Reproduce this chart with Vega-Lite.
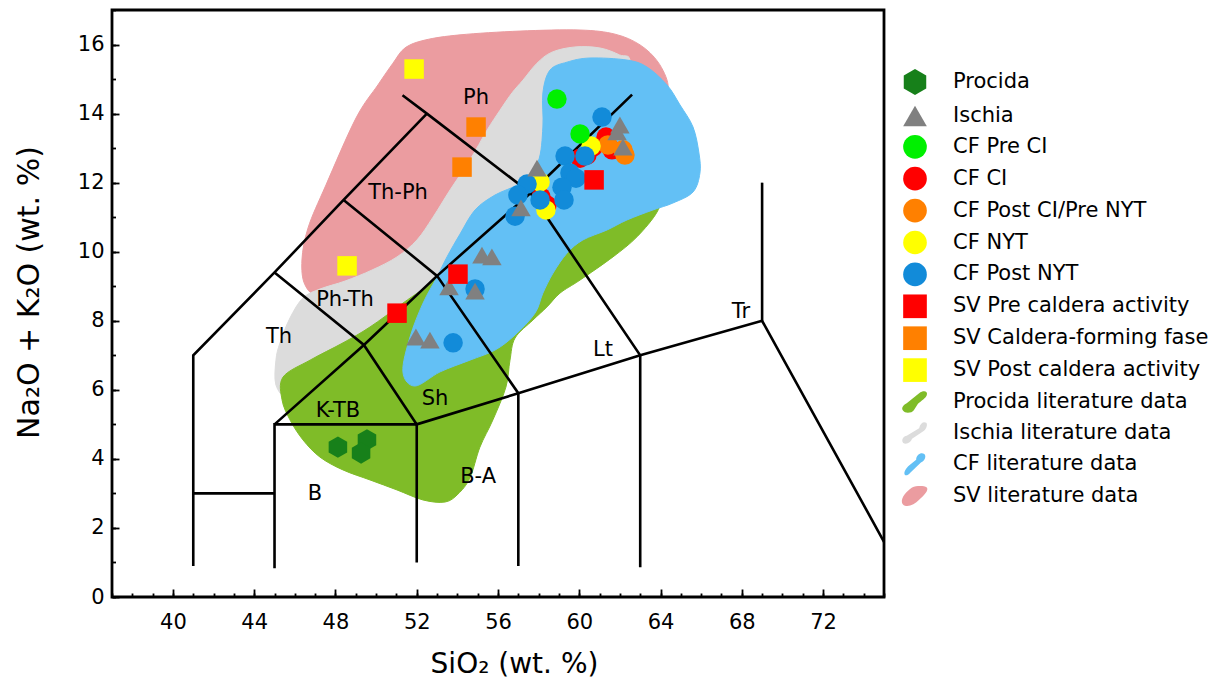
{
  "$schema": "https://vega.github.io/schema/vega-lite/v6.json",
  "width": 772,
  "height": 587,
  "autosize": {"type": "none"},
  "padding": {"left": 112, "top": 10, "right": 340, "bottom": 87},
  "background": "white",
  "config": {
    "view": {"stroke": "black", "strokeWidth": 2.8},
    "axis": {
      "grid": false,
      "domain": false,
      "tickColor": "black",
      "tickWidth": 1.8,
      "labelFont": "DejaVu Sans",
      "labelFontSize": 21,
      "labelColor": "black",
      "labelOverlap": false,
      "labelFlush": false,
      "titleFont": "DejaVu Sans",
      "titleFontWeight": "normal",
      "titleColor": "black"
    }
  },
  "resolve": {"axis": {"x": "independent", "y": "independent"}},
  "datasets": {
    "fields": [
      {"f": "SV", "i": 0, "x": 50.09, "y": 14.83},
      {"f": "SV", "i": 1, "x": 50.83, "y": 15.46},
      {"f": "SV", "i": 2, "x": 51.42, "y": 15.90},
      {"f": "SV", "i": 3, "x": 52.41, "y": 16.13},
      {"f": "SV", "i": 4, "x": 54.13, "y": 16.28},
      {"f": "SV", "i": 5, "x": 57.08, "y": 16.39},
      {"f": "SV", "i": 6, "x": 60.04, "y": 16.42},
      {"f": "SV", "i": 7, "x": 61.76, "y": 16.30},
      {"f": "SV", "i": 8, "x": 62.99, "y": 15.99},
      {"f": "SV", "i": 9, "x": 63.88, "y": 15.49},
      {"f": "SV", "i": 10, "x": 64.37, "y": 14.83},
      {"f": "SV", "i": 11, "x": 64.07, "y": 14.39},
      {"f": "SV", "i": 12, "x": 62.50, "y": 14.54},
      {"f": "SV", "i": 13, "x": 60.53, "y": 14.68},
      {"f": "SV", "i": 14, "x": 58.56, "y": 14.10},
      {"f": "SV", "i": 15, "x": 57.08, "y": 12.95},
      {"f": "SV", "i": 16, "x": 55.61, "y": 11.50},
      {"f": "SV", "i": 17, "x": 53.64, "y": 10.34},
      {"f": "SV", "i": 18, "x": 51.67, "y": 9.47},
      {"f": "SV", "i": 19, "x": 49.21, "y": 8.89},
      {"f": "SV", "i": 20, "x": 47.24, "y": 8.72},
      {"f": "SV", "i": 21, "x": 46.50, "y": 9.04},
      {"f": "SV", "i": 22, "x": 46.35, "y": 9.76},
      {"f": "SV", "i": 23, "x": 46.65, "y": 10.69},
      {"f": "SV", "i": 24, "x": 47.53, "y": 11.93},
      {"f": "SV", "i": 25, "x": 49.01, "y": 13.87},

      {"f": "Ischia", "i": 0, "x": 45.07, "y": 6.14},
      {"f": "Ischia", "i": 1, "x": 45.07, "y": 6.86},
      {"f": "Ischia", "i": 2, "x": 45.27, "y": 7.36},
      {"f": "Ischia", "i": 3, "x": 45.76, "y": 8.08},
      {"f": "Ischia", "i": 4, "x": 46.40, "y": 8.66},
      {"f": "Ischia", "i": 5, "x": 47.24, "y": 8.92},
      {"f": "Ischia", "i": 6, "x": 48.47, "y": 9.15},
      {"f": "Ischia", "i": 7, "x": 49.80, "y": 9.47},
      {"f": "Ischia", "i": 8, "x": 51.03, "y": 9.85},
      {"f": "Ischia", "i": 9, "x": 52.01, "y": 10.34},
      {"f": "Ischia", "i": 10, "x": 52.80, "y": 11.00},
      {"f": "Ischia", "i": 11, "x": 53.64, "y": 11.79},
      {"f": "Ischia", "i": 12, "x": 54.62, "y": 12.66},
      {"f": "Ischia", "i": 13, "x": 55.46, "y": 13.52},
      {"f": "Ischia", "i": 14, "x": 56.10, "y": 14.10},
      {"f": "Ischia", "i": 15, "x": 56.69, "y": 14.60},
      {"f": "Ischia", "i": 16, "x": 57.23, "y": 14.97},
      {"f": "Ischia", "i": 17, "x": 57.92, "y": 15.46},
      {"f": "Ischia", "i": 18, "x": 58.66, "y": 15.78},
      {"f": "Ischia", "i": 19, "x": 59.79, "y": 15.93},
      {"f": "Ischia", "i": 20, "x": 61.02, "y": 15.90},
      {"f": "Ischia", "i": 21, "x": 61.98, "y": 15.70},
      {"f": "Ischia", "i": 22, "x": 62.50, "y": 15.49},
      {"f": "Ischia", "i": 23, "x": 62.00, "y": 14.10},
      {"f": "Ischia", "i": 24, "x": 60.04, "y": 12.95},
      {"f": "Ischia", "i": 25, "x": 57.58, "y": 10.92},
      {"f": "Ischia", "i": 26, "x": 55.11, "y": 9.47},
      {"f": "Ischia", "i": 27, "x": 52.16, "y": 8.02},
      {"f": "Ischia", "i": 28, "x": 49.21, "y": 6.86},
      {"f": "Ischia", "i": 29, "x": 46.75, "y": 5.99},
      {"f": "Ischia", "i": 30, "x": 45.66, "y": 5.76},

      {"f": "Procida", "i": 0, "x": 45.42, "y": 6.37},
      {"f": "Procida", "i": 1, "x": 46.75, "y": 6.86},
      {"f": "Procida", "i": 2, "x": 48.37, "y": 7.36},
      {"f": "Procida", "i": 3, "x": 49.70, "y": 7.82},
      {"f": "Procida", "i": 4, "x": 51.32, "y": 8.51},
      {"f": "Procida", "i": 5, "x": 53.00, "y": 9.27},
      {"f": "Procida", "i": 6, "x": 53.98, "y": 10.25},
      {"f": "Procida", "i": 7, "x": 54.87, "y": 11.06},
      {"f": "Procida", "i": 8, "x": 57.08, "y": 11.50},
      {"f": "Procida", "i": 9, "x": 60.04, "y": 11.79},
      {"f": "Procida", "i": 10, "x": 62.99, "y": 12.02},
      {"f": "Procida", "i": 11, "x": 63.97, "y": 11.64},
      {"f": "Procida", "i": 12, "x": 63.83, "y": 11.15},
      {"f": "Procida", "i": 13, "x": 62.84, "y": 10.43},
      {"f": "Procida", "i": 14, "x": 61.66, "y": 9.85},
      {"f": "Procida", "i": 15, "x": 60.04, "y": 9.18},
      {"f": "Procida", "i": 16, "x": 59.05, "y": 8.80},
      {"f": "Procida", "i": 17, "x": 58.41, "y": 8.40},
      {"f": "Procida", "i": 18, "x": 57.72, "y": 8.02},
      {"f": "Procida", "i": 19, "x": 56.84, "y": 7.50},
      {"f": "Procida", "i": 20, "x": 56.59, "y": 6.86},
      {"f": "Procida", "i": 21, "x": 56.39, "y": 6.08},
      {"f": "Procida", "i": 22, "x": 55.75, "y": 5.13},
      {"f": "Procida", "i": 23, "x": 55.11, "y": 4.34},
      {"f": "Procida", "i": 24, "x": 54.62, "y": 3.45},
      {"f": "Procida", "i": 25, "x": 54.03, "y": 2.98},
      {"f": "Procida", "i": 26, "x": 53.39, "y": 2.75},
      {"f": "Procida", "i": 27, "x": 52.31, "y": 2.81},
      {"f": "Procida", "i": 28, "x": 51.03, "y": 3.10},
      {"f": "Procida", "i": 29, "x": 49.70, "y": 3.39},
      {"f": "Procida", "i": 30, "x": 48.37, "y": 3.68},
      {"f": "Procida", "i": 31, "x": 47.24, "y": 4.05},
      {"f": "Procida", "i": 32, "x": 46.40, "y": 4.55},
      {"f": "Procida", "i": 33, "x": 45.76, "y": 5.13},
      {"f": "Procida", "i": 34, "x": 45.37, "y": 5.71},

      {"f": "CF", "i": 0, "x": 51.32, "y": 6.52},
      {"f": "CF", "i": 1, "x": 51.67, "y": 7.53},
      {"f": "CF", "i": 2, "x": 52.31, "y": 8.51},
      {"f": "CF", "i": 3, "x": 53.00, "y": 9.27},
      {"f": "CF", "i": 4, "x": 53.49, "y": 9.85},
      {"f": "CF", "i": 5, "x": 54.13, "y": 10.51},
      {"f": "CF", "i": 6, "x": 54.87, "y": 11.21},
      {"f": "CF", "i": 7, "x": 55.85, "y": 11.64},
      {"f": "CF", "i": 8, "x": 57.08, "y": 11.99},
      {"f": "CF", "i": 9, "x": 57.97, "y": 12.60},
      {"f": "CF", "i": 10, "x": 58.21, "y": 13.61},
      {"f": "CF", "i": 11, "x": 58.21, "y": 14.60},
      {"f": "CF", "i": 12, "x": 58.56, "y": 15.26},
      {"f": "CF", "i": 13, "x": 59.40, "y": 15.49},
      {"f": "CF", "i": 14, "x": 60.53, "y": 15.61},
      {"f": "CF", "i": 15, "x": 62.35, "y": 15.55},
      {"f": "CF", "i": 16, "x": 63.33, "y": 15.35},
      {"f": "CF", "i": 17, "x": 64.32, "y": 14.83},
      {"f": "CF", "i": 18, "x": 64.96, "y": 14.25},
      {"f": "CF", "i": 19, "x": 65.60, "y": 13.61},
      {"f": "CF", "i": 20, "x": 65.89, "y": 12.86},
      {"f": "CF", "i": 21, "x": 65.94, "y": 12.28},
      {"f": "CF", "i": 22, "x": 65.60, "y": 11.73},
      {"f": "CF", "i": 23, "x": 64.61, "y": 11.41},
      {"f": "CF", "i": 24, "x": 63.63, "y": 11.21},
      {"f": "CF", "i": 25, "x": 62.35, "y": 10.92},
      {"f": "CF", "i": 26, "x": 61.37, "y": 10.63},
      {"f": "CF", "i": 27, "x": 60.18, "y": 10.34},
      {"f": "CF", "i": 28, "x": 59.40, "y": 9.96},
      {"f": "CF", "i": 29, "x": 58.71, "y": 9.38},
      {"f": "CF", "i": 30, "x": 58.21, "y": 8.80},
      {"f": "CF", "i": 31, "x": 57.82, "y": 8.22},
      {"f": "CF", "i": 32, "x": 56.84, "y": 7.59},
      {"f": "CF", "i": 33, "x": 55.85, "y": 7.15},
      {"f": "CF", "i": 34, "x": 54.62, "y": 6.86},
      {"f": "CF", "i": 35, "x": 53.15, "y": 6.52},
      {"f": "CF", "i": 36, "x": 51.91, "y": 6.11}
    ],
    "tas": [
      {"s": "A", "i": 0, "x": 41, "y": 0.9},
      {"s": "A", "i": 1, "x": 41, "y": 7},
      {"s": "A", "i": 2, "x": 45, "y": 9.4},
      {"s": "A", "i": 3, "x": 48.4, "y": 11.5},
      {"s": "A", "i": 4, "x": 52.5, "y": 14},
      {"s": "B", "i": 0, "x": 51.3, "y": 14.53},
      {"s": "B", "i": 1, "x": 52.5, "y": 14},
      {"s": "B", "i": 2, "x": 57.6, "y": 11.7},
      {"s": "B", "i": 3, "x": 63, "y": 7},
      {"s": "B", "i": 4, "x": 63, "y": 0.86},
      {"s": "C", "i": 0, "x": 41, "y": 3},
      {"s": "C", "i": 1, "x": 45, "y": 3},
      {"s": "D", "i": 0, "x": 45, "y": 0.83},
      {"s": "D", "i": 1, "x": 45, "y": 5},
      {"s": "D", "i": 2, "x": 52, "y": 5},
      {"s": "D", "i": 3, "x": 52, "y": 1.0},
      {"s": "E", "i": 0, "x": 45, "y": 5},
      {"s": "E", "i": 1, "x": 49.4, "y": 7.3},
      {"s": "E", "i": 2, "x": 53, "y": 9.3},
      {"s": "E", "i": 3, "x": 57.6, "y": 11.7},
      {"s": "E", "i": 4, "x": 62.6, "y": 14.55},
      {"s": "F", "i": 0, "x": 45, "y": 9.4},
      {"s": "F", "i": 1, "x": 49.4, "y": 7.3},
      {"s": "F", "i": 2, "x": 52, "y": 5},
      {"s": "F", "i": 3, "x": 57, "y": 5.9},
      {"s": "F", "i": 4, "x": 63, "y": 7},
      {"s": "F", "i": 5, "x": 69, "y": 8},
      {"s": "F", "i": 6, "x": 75, "y": 1.6},
      {"s": "G", "i": 0, "x": 48.4, "y": 11.5},
      {"s": "G", "i": 1, "x": 53, "y": 9.3},
      {"s": "G", "i": 2, "x": 57, "y": 5.9},
      {"s": "G", "i": 3, "x": 57, "y": 0.9},
      {"s": "H", "i": 0, "x": 69, "y": 8},
      {"s": "H", "i": 1, "x": 69, "y": 12}
    ],
    "names": [
      {"t": "Ph", "x": 54.92, "y": 14.45},
      {"t": "Th-Ph", "x": 51.08, "y": 11.70},
      {"t": "Ph-Th", "x": 48.47, "y": 8.60},
      {"t": "Th", "x": 45.22, "y": 7.53},
      {"t": "K-TB", "x": 48.12, "y": 5.39},
      {"t": "Sh", "x": 52.90, "y": 5.73},
      {"t": "B", "x": 46.99, "y": 2.98},
      {"t": "B-A", "x": 55.02, "y": 3.48},
      {"t": "Lt", "x": 61.17, "y": 7.15},
      {"t": "Tr", "x": 67.96, "y": 8.25}
    ],
    "pts": [
      {"g": "CF CI", "x": 60.38, "y": 12.80},
      {"g": "CF CI", "x": 61.32, "y": 13.32},
      {"g": "CF CI", "x": 61.61, "y": 12.95},
      {"g": "CF CI", "x": 58.12, "y": 11.58},
      {"g": "CF CI", "x": 58.41, "y": 11.35},
      {"g": "CF CI", "x": 60.68, "y": 13.03},
      {"g": "CF CI", "x": 60.04, "y": 12.71},
      {"g": "CF Post CI/Pre NYT", "x": 61.41, "y": 13.09},
      {"g": "CF Post CI/Pre NYT", "x": 62.25, "y": 12.80},
      {"g": "CF Post CI/Pre NYT", "x": 62.15, "y": 12.95},
      {"g": "CF NYT", "x": 58.07, "y": 12.02},
      {"g": "CF NYT", "x": 58.36, "y": 11.21},
      {"g": "CF NYT", "x": 60.58, "y": 13.06},
      {"g": "CF Post NYT", "x": 61.12, "y": 13.90},
      {"g": "CF Post NYT", "x": 59.30, "y": 12.77},
      {"g": "CF Post NYT", "x": 60.28, "y": 12.77},
      {"g": "CF Post NYT", "x": 59.54, "y": 12.28},
      {"g": "CF Post NYT", "x": 59.84, "y": 12.13},
      {"g": "CF Post NYT", "x": 59.15, "y": 11.87},
      {"g": "CF Post NYT", "x": 59.25, "y": 11.50},
      {"g": "CF Post NYT", "x": 57.43, "y": 11.96},
      {"g": "CF Post NYT", "x": 56.98, "y": 11.64},
      {"g": "CF Post NYT", "x": 58.07, "y": 11.50},
      {"g": "CF Post NYT", "x": 56.84, "y": 11.03},
      {"g": "CF Post NYT", "x": 54.87, "y": 8.92},
      {"g": "CF Post NYT", "x": 53.79, "y": 7.36},
      {"g": "Ischia", "x": 51.96, "y": 7.53},
      {"g": "Ischia", "x": 52.65, "y": 7.44},
      {"g": "Ischia", "x": 53.59, "y": 8.98},
      {"g": "Ischia", "x": 54.87, "y": 8.86},
      {"g": "Ischia", "x": 55.21, "y": 9.90},
      {"g": "Ischia", "x": 55.70, "y": 9.85},
      {"g": "Ischia", "x": 57.92, "y": 12.42},
      {"g": "Ischia", "x": 57.13, "y": 11.27},
      {"g": "Ischia", "x": 62.00, "y": 13.67},
      {"g": "Ischia", "x": 62.15, "y": 13.03},
      {"g": "Ischia", "x": 61.86, "y": 13.47},
      {"g": "CF Pre CI", "x": 58.90, "y": 14.42},
      {"g": "CF Pre CI", "x": 60.04, "y": 13.41},
      {"g": "SV Pre caldera activity", "x": 51.03, "y": 8.22},
      {"g": "SV Pre caldera activity", "x": 54.03, "y": 9.35},
      {"g": "SV Pre caldera activity", "x": 60.73, "y": 12.08},
      {"g": "SV Caldera-forming fase", "x": 54.92, "y": 13.61},
      {"g": "SV Caldera-forming fase", "x": 54.23, "y": 12.45},
      {"g": "SV Post caldera activity", "x": 51.87, "y": 15.29},
      {"g": "SV Post caldera activity", "x": 48.57, "y": 9.59},
      {"g": "Procida", "x": 48.12, "y": 4.34},
      {"g": "Procida", "x": 49.55, "y": 4.55},
      {"g": "Procida", "x": 49.26, "y": 4.17}
    ]
  },
  "encoding": {
    "x": {"field": "x", "type": "quantitative", "scale": {"domain": [37, 75], "nice": false, "zero": false}, "axis": null},
    "y": {"field": "y", "type": "quantitative", "scale": {"domain": [0, 17], "nice": false, "zero": false}, "axis": null}
  },
  "layer": [
    {
      "data": {"name": "fields"},
      "transform": [{"filter": "datum.f === 'SV'"}],
      "mark": {"type": "line", "interpolate": "cardinal-closed", "fill": "#eb9ca0", "stroke": "#eb9ca0", "strokeWidth": 1},
      "encoding": {"order": {"field": "i", "type": "quantitative"}}
    },
    {
      "data": {"name": "fields"},
      "transform": [{"filter": "datum.f === 'Ischia'"}],
      "mark": {"type": "line", "interpolate": "cardinal-closed", "fill": "#dcdcdc", "stroke": "#dcdcdc", "strokeWidth": 1},
      "encoding": {"order": {"field": "i", "type": "quantitative"}}
    },
    {
      "data": {"name": "fields"},
      "transform": [{"filter": "datum.f === 'Procida'"}],
      "mark": {"type": "line", "interpolate": "cardinal-closed", "fill": "#7fbc28", "stroke": "#7fbc28", "strokeWidth": 1},
      "encoding": {"order": {"field": "i", "type": "quantitative"}}
    },
    {
      "data": {"name": "fields"},
      "transform": [{"filter": "datum.f === 'CF'"}],
      "mark": {"type": "line", "interpolate": "cardinal-closed", "fill": "#63c0f5", "stroke": "#63c0f5", "strokeWidth": 1},
      "encoding": {"order": {"field": "i", "type": "quantitative"}}
    },
    {
      "data": {"name": "tas"},
      "mark": {"type": "line", "color": "black", "strokeWidth": 2.6, "strokeJoin": "miter"},
      "encoding": {
        "x": {
          "field": "x", "type": "quantitative",
          "scale": {"domain": [37, 75], "nice": false, "zero": false},
          "axis": {
            "orient": "bottom", "offset": -8, "tickSize": 8,
            "values": [40, 44, 48, 52, 56, 60, 64, 68, 72],
            "labelPadding": 14,
            "title": "SiO₂ (wt. %)", "titleFontSize": 28,
            "titleX": 402, "titleY": 83, "titleAlign": "center", "titleBaseline": "alphabetic"
          }
        },
        "y": {
          "field": "y", "type": "quantitative",
          "scale": {"domain": [0, 17], "nice": false, "zero": false},
          "axis": {
            "orient": "left", "offset": -7, "tickSize": 7,
            "values": [0, 2, 4, 6, 8, 10, 12, 14, 16],
            "labelPadding": 8,
            "title": "Na₂O + K₂O (wt. %)", "titleFontSize": 30,
            "titleX": -81, "titleY": 282, "titleAngle": -90, "titleAlign": "center", "titleBaseline": "alphabetic"
          }
        },
        "detail": {"field": "s", "type": "nominal"},
        "order": {"field": "i", "type": "quantitative"}
      }
    },
    {
      "data": {"name": "names"},
      "mark": {"type": "text", "font": "DejaVu Sans", "fontSize": 21, "color": "black", "align": "center", "baseline": "middle"},
      "encoding": {
        "x": {
          "field": "x", "type": "quantitative",
          "scale": {"domain": [37, 75], "nice": false, "zero": false},
          "axis": {
            "orient": "bottom", "offset": -4, "tickSize": 4, "labels": false, "title": null,
            "values": [37, 38, 39, 40, 41, 42, 43, 44, 45, 46, 47, 48, 49, 50, 51, 52, 53, 54, 55, 56, 57, 58, 59, 60, 61, 62, 63, 64, 65, 66, 67, 68, 69, 70, 71, 72, 73, 74, 75]
          }
        },
        "y": {
          "field": "y", "type": "quantitative",
          "scale": {"domain": [0, 17], "nice": false, "zero": false},
          "axis": {
            "orient": "left", "offset": -3.5, "tickSize": 3.5, "labels": false, "title": null,
            "values": [0, 1, 2, 3, 4, 5, 6, 7, 8, 9, 10, 11, 12, 13, 14, 15, 16, 17]
          }
        },
        "text": {"field": "t", "type": "nominal"}
      }
    },
    {
      "data": {"name": "pts"},
      "mark": {"type": "point", "filled": true, "opacity": 1, "size": 380, "strokeWidth": 0},
      "encoding": {
        "color": {
          "field": "g",
          "type": "nominal",
          "scale": {
            "domain": ["Procida", "Ischia", "CF Pre CI", "CF CI", "CF Post CI/Pre NYT", "CF NYT", "CF Post NYT", "SV Pre caldera activity", "SV Caldera-forming fase", "SV Post caldera activity", "Procida literature data", "Ischia literature data", "CF literature data", "SV literature data"],
            "range": ["#17801a", "#808080", "#00f000", "#ff0000", "#ff8000", "#ffff00", "#128bd9", "#ff0000", "#ff8000", "#ffff00", "#7fbc28", "#dcdcdc", "#63c0f5", "#eb9ca0"]
          },
          "legend": {
            "orient": "none", "legendX": 791, "legendY": 60, "title": null, "padding": 0,
            "labelFont": "DejaVu Sans", "labelFontSize": 21, "labelColor": "black", "labelLimit": 400,
            "labelOffset": 26, "symbolSize": 560, "rowPadding": 7.9, "symbolStrokeWidth": 0
          }
        },
        "shape": {
          "field": "g",
          "type": "nominal",
          "scale": {
            "domain": ["Procida", "Ischia", "CF Pre CI", "CF CI", "CF Post CI/Pre NYT", "CF NYT", "CF Post NYT", "SV Pre caldera activity", "SV Caldera-forming fase", "SV Post caldera activity", "Procida literature data", "Ischia literature data", "CF literature data", "SV literature data"],
            "range": [
              "M0,-1.1L0.95,-0.55L0.95,0.55L0,1.1L-0.95,0.55L-0.95,-0.55Z",
              "triangle-up", "circle", "circle", "circle", "circle", "circle", "square", "square", "square",
              "M-1,0.75C-1.2,0.5 -1,0.25 -0.7,0.1L0.35,-0.75C0.7,-1 1.1,-0.95 1,-0.6C0.95,-0.35 0.5,-0.1 0.25,0.15L-0.1,0.7C-0.25,0.95 -0.85,1 -1,0.75Z",
              "M-1,0.85C-1.2,0.6 -0.95,0.25 -0.7,0.25L0.35,-0.4C0.45,-0.85 0.75,-1 0.95,-0.85C1.1,-0.7 0.95,-0.25 0.7,-0.15L-0.25,0.5C-0.35,0.85 -0.75,1 -1,0.85Z",
              "M-0.85,0.95C-1,0.75 -0.75,0.35 -0.5,0.15L0.1,-0.35C0.1,-0.75 0.5,-1 0.75,-0.85C1,-0.7 0.85,-0.25 0.5,-0.1L-0.4,0.75C-0.6,1 -0.75,1 -0.85,0.95Z",
              "M-1.1,0.6C-1.2,0.15 -0.7,-0.4 -0.25,-0.7C0.15,-0.85 0.75,-0.85 1,-0.7C1.2,-0.45 0.7,0 0.35,0.35C0,0.75 -0.5,0.95 -0.85,0.85C-1,0.8 -1.05,0.7 -1.1,0.6Z"
            ]
          },
          "legend": {
            "orient": "none", "legendX": 791, "legendY": 60, "title": null, "padding": 0,
            "labelFont": "DejaVu Sans", "labelFontSize": 21, "labelColor": "black", "labelLimit": 400,
            "labelOffset": 26, "symbolSize": 560, "rowPadding": 7.9, "symbolStrokeWidth": 0
          }
        }
      }
    }
  ]
}
